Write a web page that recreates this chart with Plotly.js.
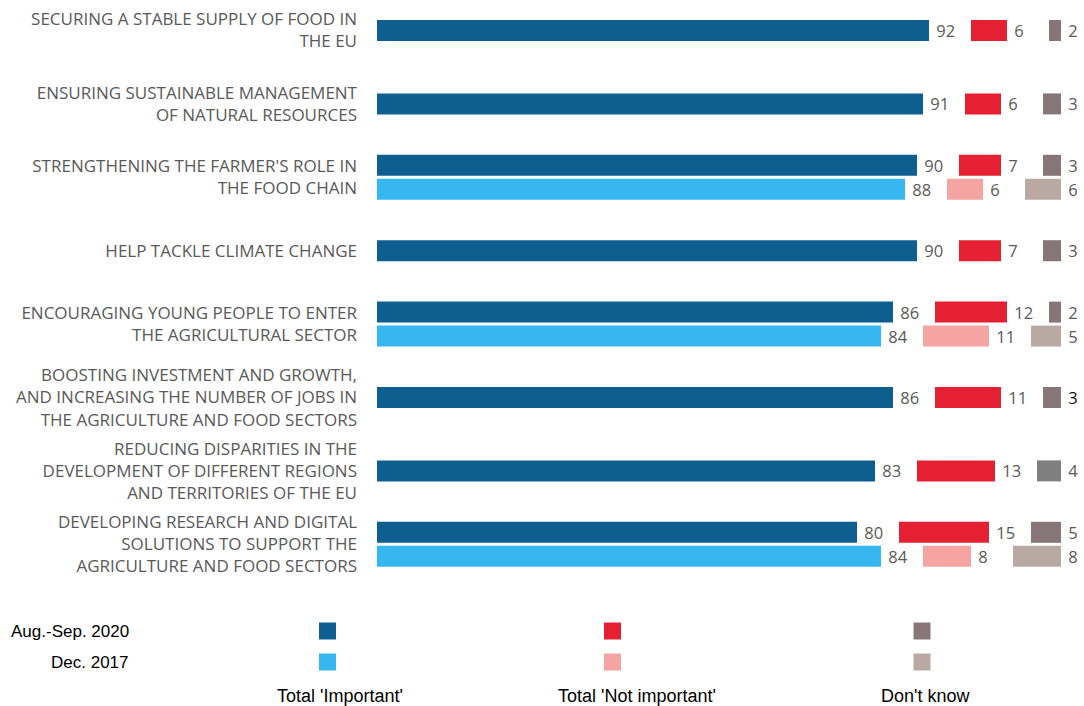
<!DOCTYPE html>
<html>
<head>
<meta charset="utf-8">
<script src="https://cdn.plot.ly/plotly-3.0.1.min.js"></script>
<style>html,body{margin:0;padding:0;background:#fff;}#chart{width:1084px;height:706px;}</style>
</head>
<body>
<div id="chart"></div>
<script>
// ---- data ----
const categories = [
  "SECURING A STABLE SUPPLY OF FOOD IN<br>THE EU",
  "ENSURING SUSTAINABLE MANAGEMENT<br>OF NATURAL RESOURCES",
  "STRENGTHENING THE FARMER'S ROLE IN<br>THE FOOD CHAIN",
  "HELP TACKLE CLIMATE CHANGE",
  "ENCOURAGING YOUNG PEOPLE TO ENTER<br>THE AGRICULTURAL SECTOR",
  "BOOSTING INVESTMENT AND GROWTH,<br>AND INCREASING THE NUMBER OF JOBS IN<br>THE AGRICULTURE AND FOOD SECTORS",
  "REDUCING DISPARITIES IN THE<br>DEVELOPMENT OF DIFFERENT REGIONS<br>AND TERRITORIES OF THE EU",
  "DEVELOPING RESEARCH AND DIGITAL<br>SOLUTIONS TO SUPPORT THE<br>AGRICULTURE AND FOOD SECTORS"
];
const important2020    = [92, 91, 90, 90, 86, 86, 83, 80];
const notImportant2020 = [6, 6, 7, 7, 12, 11, 13, 15];
const dontKnow2020     = [2, 3, 3, 3, 2, 3, 4, 5];
const important2017    = [null, null, 88, null, 84, null, null, 84];
const notImportant2017 = [null, null, 6, null, 11, null, null, 8];
const dontKnow2017     = [null, null, 6, null, 5, null, null, 8];
const periodLabels = ["Aug.-Sep. 2020", "Dec. 2017"];
const groupLabels = ["Total 'Important'", "Total 'Not important'", "Don't know"];

// ---- styling / layout constants ----
const W = 1084, H = 706;
const L = 377, R = 7, T = 0, B = 106;
const plotW = W - L - R, plotH = H - T - B;
const PX_PER_UNIT = 6.0;
const GAP = 7;                // gap between the three blocks, in value units
const ROW_PX = 73.4;          // pixels per category row
const BAR_PX = 21, PAIR_GAP_PX = 3;
const bw = BAR_PX / ROW_PX, bg = PAIR_GAP_PX / ROW_PX;
const yMin = -30.5 / ROW_PX;
const yMax = yMin + plotH / ROW_PX;

const colors = {
  imp20: "#0e5f8f", imp17: "#36b7ef",
  not20: "#e52033", not17: "#f5a4a1",
  dk20: "#877679",  dk17: "#b8aaa3"
};
const textColor = "#595959";
const font = "'Open Sans', 'Noto Sans', sans-serif";

const has17 = important2017.map(v => v !== null);
const off20 = has17.map(h => h ? -(bw + bg / 2) : -bw / 2);
const off17 = has17.map(() => bg / 2);
const wArr = categories.map(() => bw);

function bases(imp, not) {
  const b2 = imp.map(v => v === null ? null : v + GAP);
  const b3 = imp.map((v, i) => v === null ? null : v + GAP + not[i] + GAP);
  return [b2, b3];
}
const [base2_20, base3_20] = bases(important2020, notImportant2020);
const [base2_17, base3_17] = bases(important2017, notImportant2017);

function bar(x, base, color, offset, textColors) {
  return {
    type: "bar", orientation: "h", y: categories, x: x,
    base: base, offset: offset, width: wArr,
    marker: {color: color, line: {width: 0}},
    text: x.map(v => v === null ? "" : String(v)),
    texttemplate: "\u00a0%{text}",
    textposition: "outside", cliponaxis: false, constraintext: "none",
    textfont: {family: font, size: 16.5, color: textColors || textColor},
    hoverinfo: "skip", showlegend: false
  };
}

const dk20Colors = dontKnow2020.map((v, i) => i === 6 ? "#7f7f7f" : colors.dk20);
const dk20Text = dontKnow2020.map((v, i) => i === 5 ? "#111111" : textColor);

const traces = [
  bar(important2020, categories.map(() => 0), colors.imp20, off20),
  bar(notImportant2020, base2_20, colors.not20, off20),
  bar(dontKnow2020, base3_20, dk20Colors, off20, dk20Text),
  bar(important2017, important2017.map(v => v === null ? null : 0), colors.imp17, off17),
  bar(notImportant2017, base2_17, colors.not17, off17),
  bar(dontKnow2017, base3_17, colors.dk17, off17)
];

// pixel -> paper helpers for the custom legend
const px = x => (x - L) / plotW;
const py = y => 1 - (y - T) / plotH;

const legendFont = {family: "'Liberation Sans', Arial, sans-serif", size: 17, color: "#000"};
const bottomFont = {family: "'Liberation Sans', Arial, sans-serif", size: 18, color: "#000"};
const annotations = [];
const shapes = [];
const legendRowsY = [631, 662];
const legendColsX = [327.5, 612.5, 922];
const legendColors = [[colors.imp20, colors.not20, colors.dk20], [colors.imp17, colors.not17, colors.dk17]];
periodLabels.forEach((lab, r) => {
  annotations.push({xref: "paper", yref: "paper", x: px(131), y: py(legendRowsY[r]),
    xanchor: "right", yanchor: "middle", text: lab, showarrow: false, font: legendFont});
  legendColsX.forEach((cx, c) => {
    shapes.push({type: "rect", xref: "paper", yref: "paper",
      x0: px(cx - 8.5), x1: px(cx + 8.5), y0: py(legendRowsY[r] - 8.5), y1: py(legendRowsY[r] + 8.5),
      fillcolor: legendColors[r][c], line: {width: 0}});
  });
});
const bottomX = [340, 637, 925];
groupLabels.forEach((lab, c) => {
  annotations.push({xref: "paper", yref: "paper", x: px(bottomX[c]), y: py(696),
    xanchor: "center", yanchor: "middle", text: lab, showarrow: false, font: bottomFont});
});

const layout = {
  width: W, height: H,
  margin: {l: L, r: R, t: T, b: B, pad: 0},
  paper_bgcolor: "#fff", plot_bgcolor: "#fff",
  barmode: "overlay",
  showlegend: false,
  xaxis: {range: [0, plotW / PX_PER_UNIT], visible: false, fixedrange: true},
  yaxis: {
    type: "category", range: [yMax, yMin], autorange: false,
    showgrid: false, zeroline: false, showline: false, ticks: "",
    ticklabelstandoff: 19,
    tickfont: {family: font, size: 17, color: textColor},
    fixedrange: true
  },
  annotations: annotations,
  shapes: shapes
};

Plotly.newPlot("chart", traces, layout, {displayModeBar: false, staticPlot: true});
</script>
</body>
</html>
